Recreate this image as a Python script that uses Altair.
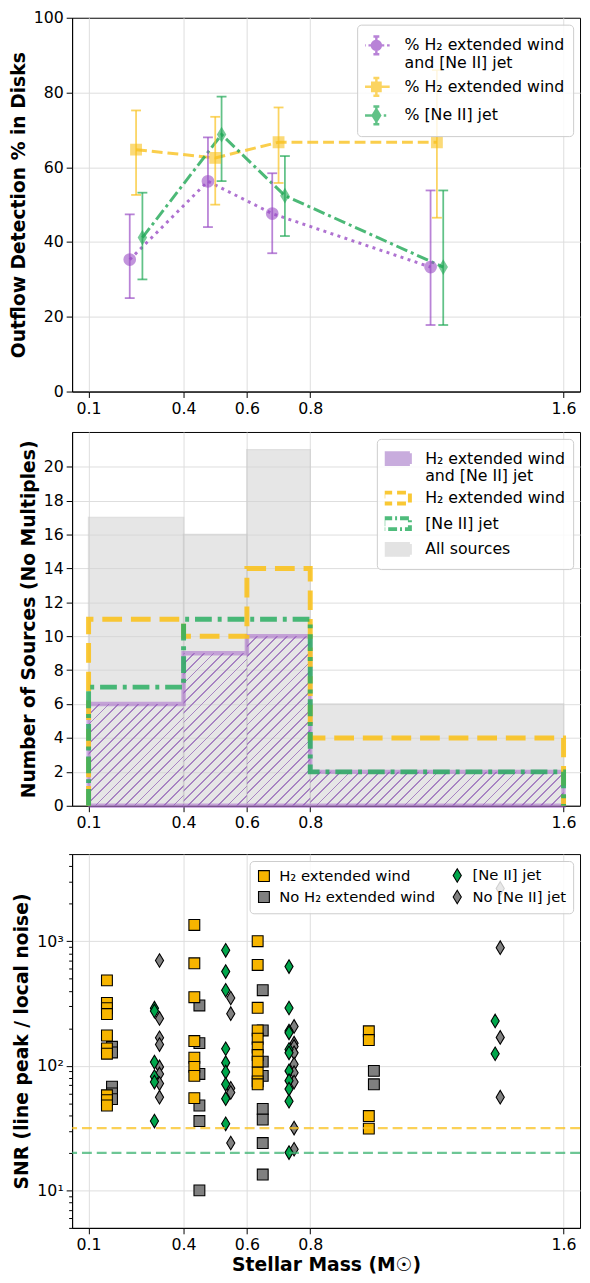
import math
import altair as alt
import pandas as pd

# ---------------- data ----------------
# Panel 1: outflow detection percentages per mass bin
top_series = ["% H₂ extended wind|and [Ne II] jet", "% H₂ extended wind", "% [Ne II] jet"]
top_keys = ["both", "h2", "ne"]
both_mass = [0.23, 0.477, 0.68, 1.18]
both_pct = [35.3, 56.25, 47.6, 33.3]
both_err_lo = [25.0, 44.0, 37.0, 17.8]
both_err_hi = [47.4, 68.0, 58.4, 53.8]
h2_mass = [0.25, 0.50, 0.70, 1.20]
h2_pct = [64.7, 62.5, 66.7, 66.7]
h2_err_lo = [52.6, 50.0, 55.8, 46.5]
h2_err_hi = [75.2, 73.5, 76.0, 86.0]
ne_mass = [0.27, 0.52, 0.72, 1.22]
ne_pct = [41.2, 68.75, 52.4, 33.3]
ne_err_lo = [30.0, 56.3, 41.6, 17.8]
ne_err_hi = [53.2, 78.9, 63.0, 53.8]

# Panel 2: histograms
bin_lo = [0.1, 0.4, 0.6, 0.8]
bin_hi = [0.4, 0.6, 0.8, 1.6]
count_all = [17, 16, 21, 6]
count_both = [6, 9, 10, 2]
count_h2 = [11, 10, 14, 4]
count_ne = [7, 11, 11, 2]
hist_series = ["H₂ extended wind|and [Ne II] jet", "H₂ extended wind", "[Ne II] jet", "All sources"]

# Panel 3: SNR scatter
sq_mass = [0.158, 0.434, 0.634, 0.985]
dia_mass = [0.308, 0.533, 0.733, 1.384]
gray_shift = 0.016
h2_snr = [
    [485, 320, 290, 260, 175, 138, 125, 58, 53, 48],
    [1350, 665, 355, 158, 116, 98, 83, 55],
    [1000, 645, 292, 192, 165, 140, 122, 108, 88, 75, 71],
    [189, 161, 39.5, 31.3],
]
noh2_snr = [
    [142, 128, 68, 60, 54],
    [305, 152, 86, 48, 36, 10],
    [404, 192, 108, 83, 45, 37, 24, 13.4],
    [91, 71],
]
ne_snr = [
    [290, 275, 107, 82, 74, 36],
    [845, 570, 404, 137, 106, 89, 71, 54.5, 34.2],
    [625, 291, 190, 184, 135, 127, 91, 76, 65, 52, 20.1],
    [229, 125],
]
none_snr = [
    [700, 240, 168, 148, 98, 86, 72, 56],
    [350, 262, 66, 61, 24],
    [207, 152, 143, 127, 103, 88, 74, 31.6, 21.4],
    [2650, 887, 169, 56],
]
scatter_cats = ["H₂ extended wind", "No H₂ extended wind", "[Ne II] jet", "No [Ne II] jet"]
thresholds = [31.6, 20.0]
threshold_names = ["h2", "ne"]

mass_ticks = [0.1, 0.4, 0.6, 0.8, 1.6]
count_ticks = [0, 2, 4, 6, 8, 10, 12, 14, 16, 18, 20]
pct_ticks = [0, 20, 40, 60, 80, 100]

# ---------------- style ----------------
W, H = 515, 379
XDOM = [0.048, 1.652]
Y2DOM = [0, 22.05]
PURPLE, YELLOW, GREEN = "#9b4fc6", "#f9c21f", "#1fa855"
FONT = "DejaVu Sans"

xscale = alt.Scale(domain=XDOM, nice=False, zero=False)


def xaxis(title=None):
    return alt.Axis(values=mass_ticks, format=".1f", title=title, grid=True, labelOverlap=False, titlePadding=3)


def seg(x0, y0, x1, y1):
    return "M%.3f,%.3f L%.3f,%.3f " % (x0, y0, x1, y1)


def poly_circle(r, n=20):
    p = ["%s%.3f,%.3f" % ("M" if i == 0 else "L", r * math.cos(2 * math.pi * i / n), r * math.sin(2 * math.pi * i / n))
         for i in range(n)]
    return "".join(p) + "Z "


# legend glyphs (style only): lines + filled marker (by chords) + error bar
ebar = seg(0, -0.9, 0, 0.9) + seg(-0.3, -0.9, 0.3, -0.9) + seg(-0.3, 0.9, 0.3, 0.9)
circle_fill = "".join(seg(-math.sqrt(0.45 ** 2 - y * y) + 0.08, y, math.sqrt(0.45 ** 2 - y * y) - 0.08, y)
                      for y in [-0.3, -0.15, 0, 0.15, 0.3])
square_fill = "".join(seg(-0.4, y, 0.4, y) for y in [-0.3, -0.15, 0, 0.15, 0.3])
diam_fill = "".join(seg(-0.36 * (1 - abs(y) / 0.62), y, 0.36 * (1 - abs(y) / 0.62), y)
                    for y in [-0.4, -0.2, 0, 0.2, 0.4])
leg_paths1 = [
    seg(-1.35, 0, -1.08, 0) + seg(-0.8, 0, -0.52, 0) + seg(0.52, 0, 0.8, 0) + seg(1.08, 0, 1.35, 0)
    + poly_circle(0.45) + circle_fill + ebar,
    seg(-1.35, 0, -0.45, 0) + seg(0.45, 0, 1.35, 0)
    + "M-0.42,-0.42 L0.42,-0.42 L0.42,0.42 L-0.42,0.42 Z " + square_fill + ebar,
    seg(-1.35, 0, -0.45, 0) + seg(0.75, 0, 1.0, 0)
    + "M0,-0.62 L0.38,0 L0,0.62 L-0.38,0 Z " + diam_fill + ebar,
]

# ---------------- panel 1 ----------------
rows = []
for key, ms, ps, los, his in zip(
    top_keys,
    [both_mass, h2_mass, ne_mass],
    [both_pct, h2_pct, ne_pct],
    [both_err_lo, h2_err_lo, ne_err_lo],
    [both_err_hi, h2_err_hi, ne_err_hi],
):
    for m, p, lo, hi in zip(ms, ps, los, his):
        rows.append(dict(key=key, mass=m, pct=p, lo=lo, hi=hi))
df_top = pd.DataFrame(rows)

cscale = alt.Scale(domain=top_keys, range=[PURPLE, YELLOW, GREEN])
dscale = alt.Scale(domain=top_keys, range=[[3, 4.5], [11, 5], [12, 4, 3, 4]])
X1 = alt.X("mass:Q", scale=xscale, axis=xaxis())
yax1 = alt.Axis(values=pct_ticks, title="Outflow Detection % in Disks", labelOverlap=False,
                gridOpacity={"condition": {"test": "datum.value == 0 || datum.value == 100", "value": 0}, "value": 1})
Y1 = alt.Y("pct:Q", scale=alt.Scale(domain=[0, 100], nice=False), axis=yax1)

base1 = alt.Chart(df_top)
lines1 = base1.mark_line(strokeWidth=3, opacity=0.8).encode(
    x=X1, y=Y1,
    color=alt.Color("key:N", scale=cscale, legend=None),
    strokeDash=alt.StrokeDash("key:N", scale=dscale, legend=None),
)
rules1 = base1.mark_rule(strokeWidth=1.8, opacity=0.7).encode(
    x="mass:Q", y="lo:Q", y2="hi:Q", color=alt.Color("key:N", scale=cscale, legend=None)
)
caps_lo = base1.mark_point(shape="M-1,0L1,0", size=100, strokeWidth=1.8, opacity=0.7, filled=False).encode(
    x="mass:Q", y="lo:Q", color=alt.Color("key:N", scale=cscale, legend=None)
)
caps_hi = base1.mark_point(shape="M-1,0L1,0", size=100, strokeWidth=1.8, opacity=0.7, filled=False).encode(
    x="mass:Q", y="hi:Q", color=alt.Color("key:N", scale=cscale, legend=None)
)
marker_shapes = ["circle", "square", "M0,-1.25L0.75,0L0,1.25L-0.75,0Z"]
marker_sizes = [130, 110, 110]
markers = []
for key, c, shp, sz in zip(top_keys, [PURPLE, YELLOW, GREEN], marker_shapes, marker_sizes):
    markers.append(
        alt.Chart(df_top[df_top.key == key]).mark_point(
            shape=shp, size=sz, filled=True, fill=c, stroke=c, strokeWidth=1.5, opacity=0.6
        ).encode(x="mass:Q", y="pct:Q")
    )

df_leg1 = pd.DataFrame(dict(series=top_series, x=both_mass[:3], y=both_pct[:3]))
leg1 = alt.Chart(df_leg1).mark_point(filled=True, opacity=0).encode(
    x="x:Q", y="y:Q",
    fill=alt.Fill("series:N", title=None, scale=alt.Scale(domain=top_series, range=[PURPLE, YELLOW, GREEN]),
                  legend=alt.Legend(title=None, orient="top-right", labelExpr="split(datum.label, '|')",
                                    symbolSize=400, symbolStrokeWidth=2.5, symbolOpacity=0.7,
                                    labelOffset=17, rowPadding=3, clipHeight=26, padding=8,
                                    labelFontSize=16)),
    stroke=alt.Stroke("series:N", title=None, scale=alt.Scale(domain=top_series, range=[PURPLE, YELLOW, GREEN])),
    shape=alt.Shape("series:N", title=None, scale=alt.Scale(domain=top_series, range=leg_paths1)),
)
p1 = alt.layer(lines1, rules1, caps_lo, caps_hi, *markers, leg1).properties(width=W, height=H)

# ---------------- panel 2 ----------------
df_bins = pd.DataFrame(dict(i=range(4), lo=bin_lo, hi=bin_hi, all=count_all, both=count_both))


def step_df(counts, closed=False):
    xs, ys = [bin_lo[0]], [0]
    for lo, hi, c in zip(bin_lo, bin_hi, counts):
        xs += [lo, hi]
        ys += [c, c]
    xs.append(bin_hi[-1])
    ys.append(0)
    if closed:
        xs.append(bin_lo[0])
        ys.append(0)
    return pd.DataFrame(dict(x=xs, y=ys, o=range(len(xs))))


px_x = W / (XDOM[1] - XDOM[0])
px_y = H / (Y2DOM[1] - Y2DOM[0])


def hatch(w, h, s=7.0, lw=1.3, color="#a783c2"):
    r = h / w
    k = (1 + r) / (1 + r * r)
    d = (w + h) / math.sqrt(2)
    P, L = s / d, lw / d
    clear = "rgba(167,131,194,0)"
    stops = []
    t = 0.0
    while t < 1:
        a, b, c = t, min(t + L, 1), min(t + P, 1)
        stops += [(a, color), (b, color), (b, clear), (c, clear)]
        t += P
    return {"gradient": "linear", "x1": 0, "y1": 0, "x2": k, "y2": k * r,
            "stops": [{"offset": round(o, 5), "color": cc} for o, cc in stops]}


yscale2 = alt.Scale(domain=Y2DOM, nice=False)
yax2 = alt.Axis(values=count_ticks, title="Number of Sources (No Multiples)", labelOverlap=False,
                tickCount=11)
X2 = alt.X("lo:Q", scale=xscale, axis=xaxis())
gray = alt.Chart(df_bins).mark_rect(fill="#d3d3d3", opacity=0.55, stroke="#c8c8c8", strokeWidth=1.5).encode(
    x=X2, x2="hi:Q", y=alt.Y("all:Q", scale=yscale2, axis=yax2), y2=alt.datum(0)
)
hatches = []
for i in range(4):
    w = (bin_hi[i] - bin_lo[i]) * px_x
    h = count_both[i] * px_y
    hatches.append(
        alt.Chart(df_bins).transform_filter(alt.datum.i == i).mark_rect(fill=hatch(w, h)).encode(
            x=alt.X("lo:Q", axis=xaxis()), x2="hi:Q", y=alt.Y("both:Q", axis=yax2), y2=alt.datum(0)
        )
    )
outline_both = alt.Chart(step_df(count_both, closed=True)).mark_line(
    color=PURPLE, opacity=0.45, strokeWidth=4.5).encode(
    x=alt.X("x:Q", axis=xaxis()), y=alt.Y("y:Q", axis=yax2), order="o:Q")
step_h2 = alt.Chart(step_df(count_h2)).mark_line(
    color=YELLOW, opacity=0.9, strokeWidth=5, strokeDash=[20, 9]).encode(
    x=alt.X("x:Q", axis=xaxis()), y=alt.Y("y:Q", axis=yax2), order="o:Q")
step_ne = alt.Chart(step_df(count_ne)).mark_line(
    color="#2aae62", opacity=0.85, strokeWidth=5, strokeDash=[17, 6, 4, 6]).encode(
    x=alt.X("x:Q", axis=xaxis()), y=alt.Y("y:Q", axis=yax2), order="o:Q")

df_leg2 = pd.DataFrame(dict(series=hist_series, x=bin_lo, y=count_all))
rect_path = "M-1.35,-0.55 L1.35,-0.55 L1.35,0.55 L-1.35,0.55 Z "
rect_filled = rect_path + seg(-1.2, -0.2, 1.2, -0.2) + seg(-1.2, 0.1, 1.2, 0.1) + seg(-1.2, 0.25, 1.2, 0.25)
leg2 = alt.Chart(df_leg2).mark_point(filled=True, opacity=0).encode(
    x=alt.X("x:Q", axis=xaxis()), y=alt.Y("y:Q", axis=yax2),
    fill=alt.Fill("series:N", title=None,
                  scale=alt.Scale(domain=hist_series, range=["#c4a6da", "rgba(0,0,0,0)", "rgba(0,0,0,0)", "#e3e3e3"]),
                  legend=alt.Legend(title=None, orient="top-right", labelExpr="split(datum.label, '|')",
                                    symbolSize=400, symbolStrokeWidth=4, symbolOpacity=0.9,
                                    labelOffset=17, rowPadding=2, clipHeight=24, padding=8,
                                    labelFontSize=16)),
    stroke=alt.Stroke("series:N", title=None,
                      scale=alt.Scale(domain=hist_series, range=["#c3a4da", YELLOW, "#3cb56e", "#e0e0e0"])),
    strokeDash=alt.StrokeDash("series:N", title=None,
                              scale=alt.Scale(domain=hist_series, range=[[1, 0], [9, 5], [9, 3, 2, 3], [1, 0]])),
    shape=alt.Shape("series:N", title=None,
                    scale=alt.Scale(domain=hist_series, range=[rect_filled, rect_path, rect_path, rect_filled])),
)
p2 = alt.layer(gray, *hatches, outline_both, step_h2, step_ne, leg2).properties(width=W, height=H)

# ---------------- panel 3 ----------------
rows = []
for grp, m in zip(noh2_snr, sq_mass):
    rows += [dict(cat=scatter_cats[1], mass=m + gray_shift, snr=v) for v in grp]
for grp, m in zip(none_snr, dia_mass):
    rows += [dict(cat=scatter_cats[3], mass=m + gray_shift, snr=v) for v in grp]
for grp, m in zip(h2_snr, sq_mass):
    rows += [dict(cat=scatter_cats[0], mass=m, snr=v) for v in grp]
for grp, m in zip(ne_snr, dia_mass):
    rows += [dict(cat=scatter_cats[2], mass=m, snr=v) for v in grp]
df3 = pd.DataFrame(rows)

minor = [5, 6, 7, 8, 9] + list(range(20, 100, 10)) + list(range(200, 1000, 100)) + [2000, 3000, 4000, 5000]
majors = [10, 100, 1000]
is_major = "datum.value == 10 || datum.value == 100 || datum.value == 1000"
yax3 = alt.Axis(
    values=sorted(minor + majors), title="SNR (line peak / local noise)", labelOverlap=False,
    labelExpr="datum.value == 10 ? '10¹' : datum.value == 100 ? '10²' : datum.value == 1000 ? '10³' : ''",
    gridOpacity={"condition": {"test": is_major, "value": 1}, "value": 0},
    tickSize={"condition": {"test": is_major, "value": 6}, "value": 3.5},
)
Y3 = alt.Y("snr:Q", scale=alt.Scale(type="log", domain=[5, 5000], nice=False), axis=yax3)
X3 = alt.X("mass:Q", scale=xscale, axis=xaxis("Stellar Mass (M☉)"))
dia_path = "M0,-1.25L0.75,0L0,1.25L-0.75,0Z"
pts = alt.Chart(df3).mark_point(filled=True, stroke="black", strokeWidth=1.1, opacity=1, size=121).encode(
    x=X3, y=Y3,
    fill=alt.Fill("cat:N", title=None,
                  scale=alt.Scale(domain=scatter_cats, range=["#f7b500", "#808080", "#00a64b", "#808080"]),
                  legend=alt.Legend(title=None, orient="top-right", columns=2, columnPadding=14,
                                    symbolSize=121, symbolStrokeWidth=1.1, rowPadding=3, labelOffset=8,
                                    labelFontSize=15)),
    shape=alt.Shape("cat:N", title=None,
                    scale=alt.Scale(domain=scatter_cats, range=["square", "square", dia_path, dia_path])),
)
df_thr = pd.DataFrame(dict(name=threshold_names, snr=thresholds))
thr = alt.Chart(df_thr).mark_rule(strokeWidth=2.2, strokeDash=[10, 5], opacity=0.75).encode(
    y="snr:Q",
    color=alt.Color("name:N", scale=alt.Scale(domain=threshold_names, range=[YELLOW, "#3cb371"]), legend=None),
)
p3 = alt.layer(pts, thr).properties(width=W, height=H)

chart = (
    alt.vconcat(p1, p2, p3, spacing=14)
    .resolve_scale(x="independent", y="independent", color="independent", fill="independent",
                   stroke="independent", shape="independent", strokeDash="independent")
    .resolve_legend(color="independent", fill="independent", stroke="independent",
                    shape="independent", strokeDash="independent")
    .properties(padding={"left": 0, "top": -8, "right": 0, "bottom": 0})
    .configure(font=FONT)
    .configure_axis(labelFont=FONT, labelFontSize=16, labelColor="black", titleFont=FONT, titleFontSize=19,
                    titleFontWeight="bold", titleColor="black", tickColor="black", tickWidth=1, tickSize=6,
                    labelPadding=3, domainColor="black", domainWidth=1, gridColor="#dddddd", gridWidth=1,
                    titlePadding=5, labelOverlap=False)
    .configure_view(stroke="black", strokeWidth=1)
    .configure_legend(labelFont=FONT, labelFontSize=15, labelColor="black",
                      fillColor="rgba(255,255,255,0.82)", strokeColor="#cccccc", cornerRadius=4,
                      padding=7, labelLimit=400, offset=7)
)
chart.save("out.html", embed_options={"renderer": "svg", "actions": False})
